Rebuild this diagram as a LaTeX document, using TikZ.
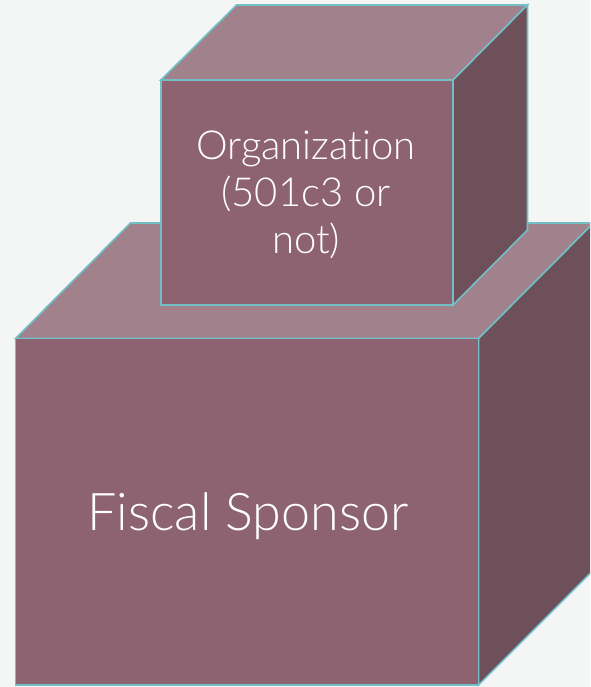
\documentclass[tikz,border=0pt]{standalone}
\usepackage{fontspec}
\newfontfamily\lato[Ligatures=NoCommon]{Lato Light}
\definecolor{bg}{HTML}{F4F6F5}
\definecolor{frontc}{HTML}{8D6372}
\definecolor{topc}{HTML}{A1818C}
\definecolor{sidec}{HTML}{6E505B}
\definecolor{edgec}{HTML}{72BFC6}
\begin{document}
\begin{tikzpicture}[x=1pt,y=-1pt,
  face/.style={draw=edgec,line width=1.6pt,line join=miter},
  lbl/.style={text=white,font=\lato,align=center,inner sep=0pt}]
\fill[bg] (0,0) rectangle (590,687);
\useasboundingbox (0,0) rectangle (590,687);
\begin{scope}
\clip (0,0) rectangle (590,687);
% big cube
\coordinate (BFtl) at (15.5,338.5);
\coordinate (BFtr) at (478.5,338.5);
\coordinate (BFbr) at (478.5,685);
\coordinate (BFbl) at (15.5,685);
\coordinate (BBtl) at (130.5,223);
\coordinate (BBtr) at (593.5,223);
\coordinate (BBbr) at (593.5,570);
\draw[face,fill=topc] (BFtl) -- (BBtl) -- (BBtr) -- (BFtr) -- cycle;
\draw[face,fill=sidec] (BFtr) -- (BBtr) -- (BBbr) -- (BFbr) -- cycle;
\draw[face,fill=frontc] (BFtl) rectangle (BFbr);
% small cube
\coordinate (SFtl) at (161,80);
\coordinate (SFtr) at (453,80);
\coordinate (SFbr) at (453,305);
\coordinate (SBtl) at (236.5,5);
\coordinate (SBtr) at (527.5,5);
\coordinate (SBbr) at (527.5,230);
\draw[face,fill=topc] (SFtl) -- (SBtl) -- (SBtr) -- (SFtr) -- cycle;
\draw[face,fill=sidec] (SFtr) -- (SBtr) -- (SBbr) -- (SFbr) -- cycle;
\draw[face,fill=frontc] (SFtl) rectangle (SFbr);
\end{scope}
\node[lbl,font=\lato\fontsize{40}{47}\selectfont,anchor=base] (org) at (306,253) {Organization\\(501c3 or\\not)};
\node[lbl,font=\lato\fontsize{52}{58}\selectfont,anchor=base] (fs) at (248,530) {Fiscal Sponsor};
\end{tikzpicture}
\end{document}
